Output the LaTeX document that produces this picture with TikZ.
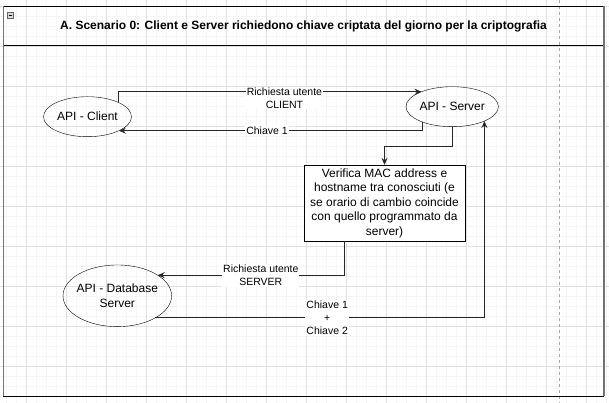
\documentclass[tikz,border=0pt]{standalone}
\usepackage{fontspec}
\setmainfont{Liberation Sans}
\usetikzlibrary{arrows.meta,shapes.geometric,calc}

\begin{document}
\begin{tikzpicture}[x=1pt,y=-1pt,every node/.style={font=\fontsize{12}{14.5}\selectfont},
  bubble/.style={draw,ellipse,inner sep=0pt,outer sep=0pt,align=center},
  link/.style={draw=black!85,line width=.9pt,-{Stealth[length=7pt,width=6pt,inset=2.5pt]}},
  tag/.style={fill=white,inner sep=1pt,align=center,font=\fontsize{10.5}{13}\selectfont}]
\useasboundingbox (0,0) rectangle (609,403);
\fill[white] (0,0) rectangle (609,403);
\foreach \k in {0,...,60} \draw[black!4,line width=.6pt] (6.7+10*\k,0) -- (6.7+10*\k,403);
\foreach \k in {0,...,39} \draw[black!4,line width=.6pt] (0,6.5+10*\k) -- (609,6.5+10*\k);
\foreach \k in {0,...,14} \draw[black!12,line width=.7pt] (26.7+40*\k,0) -- (26.7+40*\k,403);
\foreach \k in {0,...,9} \draw[black!12,line width=.7pt] (0,6.5+40*\k) -- (609,6.5+40*\k);
\draw[black!35,line width=.6pt,dash pattern=on 3pt off 3pt] (559.3,0) -- (559.3,403);
\draw[black,line width=.9pt] (3.3,6) -- (604,6) (3.3,45.7) -- (604,45.7) (3.3,396) -- (604,396);
\draw[black!55,line width=1.4pt] (3.3,6) -- (3.3,396) (604,6) -- (604,396);
\draw[black!60,fill=black!15] (7.3,12.7) rectangle (13.3,18.3);
\draw[black] (8.6,15.5) -- (12,15.5);
\node[font=\bfseries\fontsize{12}{14}\selectfont] (title) at (303.5,26) {A. Scenario 0: Client e Server richiedono chiave criptata del giorno per la criptografia};

\node[bubble,minimum width=88pt,minimum height=40pt] (cli) at (87.5,116.7) {API - Client};
\node[bubble,minimum width=81pt,minimum height=40pt] (srv) at (452.2,106.7) {API - Server};
\node[bubble,minimum width=108.6pt,minimum height=61.7pt,inner xsep=-8pt] (db) at (117.3,295.8) {API - Database\\Server};
\node[draw,fill=white,minimum width=161pt,minimum height=75.7pt,inner sep=0pt,align=center] (vbox) at (384.5,202.9) {Verifica MAC address e\\hostname tra conosciuti (e\\se orario di cambio coincide\\con quello programmato da\\server)};

\draw[link] (cli.25) |- (srv.154) node[tag,pos=.774,yshift=-6.3pt] {Richiesta utente\\CLIENT};
\draw[link] (srv.207) |- (cli.336) node[tag,pos=.756] {Chiave 1};
\draw[link] (srv.south) -- ++(0,20) -| (vbox.north);
\draw[link] ([xshift=-40pt]vbox.south) |- (db.27.5) node[tag,pos=.724] {Richiesta utente\\SERVER};
\draw[link] (db.330) -| (srv.336) node[tag,pos=.261] {Chiave 1\\+\\Chiave 2};
\end{tikzpicture}
\end{document}
